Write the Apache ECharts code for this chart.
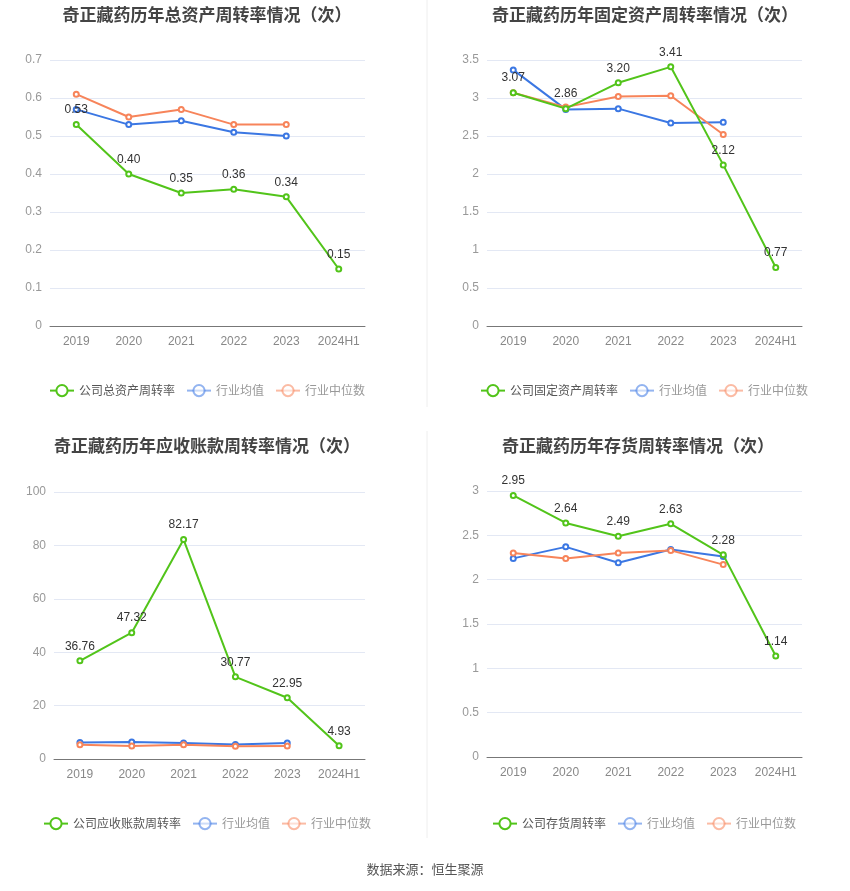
<!DOCTYPE html>
<html>
<head>
<meta charset="utf-8">
<title>奇正藏药周转率</title>
<script src="https://cdn.jsdelivr.net/npm/echarts@6/dist/echarts.min.js"></script>
<style>
  html, body { margin: 0; padding: 0; background: #fff; }
  #chart { width: 850px; height: 891px; }
</style>
</head>
<body>
<div id="chart"></div>
<script>
// categories and values
const years = ['2019', '2020', '2021', '2022', '2023', '2024H1'];

const totalAssetCompany = [0.53, 0.40, 0.35, 0.36, 0.34, 0.15];
const totalAssetAvg = [0.57, 0.53, 0.54, 0.51, 0.50];
const totalAssetMedian = [0.61, 0.55, 0.57, 0.53, 0.53];

const fixedAssetCompany = [3.07, 2.86, 3.20, 3.41, 2.12, 0.77];
const fixedAssetAvg = [3.37, 2.85, 2.86, 2.67, 2.68];
const fixedAssetMedian = [3.07, 2.88, 3.02, 3.03, 2.52];

const receivableCompany = [36.76, 47.32, 82.17, 30.77, 22.95, 4.93];
const receivableAvg = [6.2, 6.4, 6.0, 5.4, 6.0];
const receivableMedian = [5.3, 4.9, 5.3, 4.8, 4.9];

const inventoryCompany = [2.95, 2.64, 2.49, 2.63, 2.28, 1.14];
const inventoryAvg = [2.24, 2.37, 2.19, 2.34, 2.26];
const inventoryMedian = [2.30, 2.24, 2.30, 2.33, 2.17];

const GREEN = '#52c41a';
const BLUE = '#3b77e3';
const ORANGE = '#f7845a';

const panels = [
  { title: '奇正藏药历年总资产周转率情况（次）', name: '公司总资产周转率', titleX: 202, titleY: 1, legendX: 44, legendY: 379,
    grid: { left: 50, right: 485, top: 60, bottom: 565 }, max: 0.7, interval: 0.1,
    company: totalAssetCompany, avg: totalAssetAvg, median: totalAssetMedian },
  { title: '奇正藏药历年固定资产周转率情况（次）', name: '公司固定资产周转率', titleX: 640, titleY: 1, legendX: 475, legendY: 379,
    grid: { left: 487, right: 48, top: 60, bottom: 565 }, max: 3.5, interval: 0.5,
    company: fixedAssetCompany, avg: fixedAssetAvg, median: fixedAssetMedian },
  { title: '奇正藏药历年应收账款周转率情况（次）', name: '公司应收账款周转率', titleX: 202, titleY: 432, legendX: 38, legendY: 812,
    grid: { left: 54, right: 485, top: 492, bottom: 132 }, max: 100, interval: 20,
    company: receivableCompany, avg: receivableAvg, median: receivableMedian },
  { title: '奇正藏药历年存货周转率情况（次）', name: '公司存货周转率', titleX: 633, titleY: 432, legendX: 487, legendY: 812,
    grid: { left: 487, right: 48, top: 491, bottom: 134 }, max: 3, interval: 0.5,
    company: inventoryCompany, avg: inventoryAvg, median: inventoryMedian }
];

function fmt(v) {
  return v.toFixed(2);
}

const option = {
  animation: false,
  backgroundColor: '#fff',
  title: [],
  legend: [],
  grid: [],
  xAxis: [],
  yAxis: [],
  series: [],
  graphic: [
    { type: 'line', shape: { x1: 427, y1: 0, x2: 427, y2: 407 }, style: { stroke: '#eeeeee', lineWidth: 1 } },
    { type: 'line', shape: { x1: 427, y1: 431, x2: 427, y2: 838 }, style: { stroke: '#eeeeee', lineWidth: 1 } },
    { type: 'text', left: 'center', top: 863,
      style: { text: '数据来源：恒生聚源', fill: '#555', fontSize: 13, fontFamily: 'Noto Sans CJK SC' } }
  ]
};

panels.forEach((p, i) => {
  option.title.push({
    text: p.title, left: p.titleX, top: p.titleY, textAlign: 'center',
    textStyle: { fontSize: 17, fontWeight: 'bold', color: '#444', fontFamily: 'Noto Sans CJK SC' }
  });
  option.legend.push({
    left: p.legendX, top: p.legendY,
    itemWidth: 24, itemHeight: 14, itemGap: 11,
    textStyle: { fontSize: 12, color: '#555', fontFamily: 'Noto Sans CJK SC' },
    data: [
      { name: p.name },
      { name: '行业均值', itemStyle: { opacity: 0.55 }, lineStyle: { opacity: 0.55 }, textStyle: { color: '#999' } },
      { name: '行业中位数', itemStyle: { opacity: 0.55 }, lineStyle: { opacity: 0.55 }, textStyle: { color: '#999' } }
    ]
  });
  option.grid.push(Object.assign({ containLabel: false }, p.grid));
  option.xAxis.push({
    type: 'category', gridIndex: i, data: years, boundaryGap: true,
    axisLine: { lineStyle: { color: '#777' } },
    axisTick: { alignWithLabel: true, lineStyle: { color: '#777' } },
    axisLabel: { color: '#888', fontSize: 12, margin: 10, interval: 0 }
  });
  option.yAxis.push({
    type: 'value', gridIndex: i, min: 0, max: p.max, interval: p.interval,
    axisLine: { show: false }, axisTick: { show: false },
    axisLabel: { color: '#999', fontSize: 12, margin: 8 },
    splitLine: { lineStyle: { color: '#e3e8f4' } }
  });
  const common = { type: 'line', xAxisIndex: i, yAxisIndex: i, symbol: 'emptyCircle', symbolSize: 5, z: 2 };
  option.series.push(Object.assign({}, common, {
    name: '行业均值', data: p.avg, color: BLUE, lineStyle: { width: 2, color: BLUE }, itemStyle: { color: BLUE }
  }));
  option.series.push(Object.assign({}, common, {
    name: '行业中位数', data: p.median, color: ORANGE, lineStyle: { width: 2, color: ORANGE }, itemStyle: { color: ORANGE }
  }));
  option.series.push(Object.assign({}, common, {
    name: p.name, data: p.company, color: GREEN, z: 3,
    lineStyle: { width: 2, color: GREEN }, itemStyle: { color: GREEN },
    label: { show: true, position: 'top', color: '#333', fontSize: 12, formatter: (d) => fmt(d.value) }
  }));
});

const chart = echarts.init(document.getElementById('chart'));
chart.setOption(option);
</script>
</body>
</html>
